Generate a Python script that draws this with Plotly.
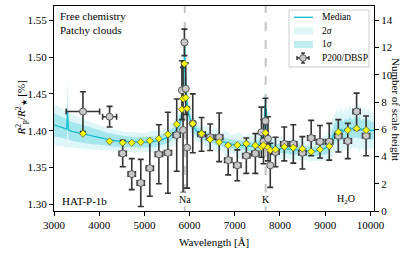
import plotly.graph_objects as go

# ---------------- data ----------------
wl_model = [3000, 3100, 3200, 3280, 3300, 3320, 3400, 3600, 3800, 4000,
            4060, 4080, 4200, 4400, 4600, 4800, 5000, 5200, 5400, 5550,
            5650, 5750, 5800, 5840, 5870, 5885, 5893, 5900, 5915, 5940,
            5980, 6050, 6150, 6300, 6400, 6500, 6600, 6700, 6800, 6900,
            7000, 7100, 7200, 7300, 7400, 7500, 7580, 7640, 7665, 7680,
            7699, 7720, 7760, 7850, 7950, 8050, 8150, 8250, 8350, 8450,
            8550, 8650, 8750, 8850, 8950, 9050, 9100, 9150, 9200, 9250,
            9300, 9350, 9400, 9450, 9500, 9550, 9600, 9650, 9700, 9750,
            9800, 9850, 9900, 9950, 10000, 10080]
median = [1.408, 1.406, 1.404, 1.402, 1.426, 1.401, 1.399, 1.396, 1.393, 1.391,
          1.390, 1.390, 1.388, 1.386, 1.385, 1.384, 1.384, 1.385, 1.388, 1.392,
          1.397, 1.405, 1.413, 1.428, 1.455, 1.510, 1.525, 1.490, 1.465, 1.440,
          1.422, 1.408, 1.400, 1.394, 1.391, 1.389, 1.387, 1.385, 1.383, 1.382,
          1.381, 1.380, 1.380, 1.379, 1.379, 1.380, 1.384, 1.395, 1.435, 1.410,
          1.430, 1.395, 1.382, 1.377, 1.376, 1.376, 1.375, 1.375, 1.374, 1.374,
          1.373, 1.372, 1.372, 1.373, 1.375, 1.378, 1.382, 1.390, 1.396, 1.400,
          1.398, 1.402, 1.399, 1.403, 1.401, 1.404, 1.402, 1.405, 1.403, 1.404,
          1.401, 1.403, 1.400, 1.402, 1.400, 1.400]
sig1_hw = [0.016, 0.015, 0.014, 0.014, 0.020, 0.013, 0.013, 0.012, 0.011, 0.010,
           0.010, 0.009, 0.009, 0.008, 0.007, 0.007, 0.007, 0.007, 0.007, 0.008,
           0.008, 0.009, 0.010, 0.011, 0.012, 0.014, 0.015, 0.014, 0.012, 0.011,
           0.010, 0.008, 0.007, 0.006, 0.007, 0.006, 0.007, 0.006, 0.007, 0.006,
           0.006, 0.007, 0.006, 0.007, 0.006, 0.007, 0.008, 0.010, 0.016, 0.012,
           0.015, 0.010, 0.007, 0.006, 0.006, 0.007, 0.006, 0.007, 0.006, 0.007,
           0.006, 0.007, 0.006, 0.007, 0.008, 0.009, 0.010, 0.012, 0.013, 0.014,
           0.013, 0.015, 0.012, 0.014, 0.013, 0.015, 0.012, 0.014, 0.013, 0.015,
           0.012, 0.014, 0.013, 0.014, 0.012, 0.012]
sig2_hw = [0.028, 0.026, 0.025, 0.025, 0.050, 0.024, 0.023, 0.021, 0.019, 0.017,
           0.017, 0.016, 0.015, 0.014, 0.013, 0.014, 0.013, 0.015, 0.013, 0.015,
           0.016, 0.017, 0.019, 0.021, 0.023, 0.026, 0.028, 0.026, 0.023, 0.021,
           0.018, 0.015, 0.014, 0.012, 0.016, 0.012, 0.017, 0.012, 0.018, 0.012,
           0.014, 0.018, 0.012, 0.016, 0.013, 0.017, 0.018, 0.022, 0.035, 0.025,
           0.030, 0.020, 0.014, 0.012, 0.013, 0.015, 0.012, 0.014, 0.013, 0.015,
           0.012, 0.014, 0.013, 0.015, 0.016, 0.018, 0.020, 0.026, 0.024, 0.030,
           0.025, 0.032, 0.024, 0.030, 0.025, 0.032, 0.024, 0.030, 0.026, 0.033,
           0.024, 0.030, 0.025, 0.028, 0.024, 0.024]

obs_wl = [3640, 4230, 4520, 4720, 4920, 5120, 5320, 5520, 5715, 5830,
          5855, 5885, 5915, 5945, 6070, 6265, 6455, 6655, 6855, 7055,
          7255, 7455, 7590, 7635, 7680, 7735, 7785, 7900, 8095, 8295,
          8495, 8690, 8885, 9090, 9290, 9500, 9695, 9905]
obs_depth = [1.426, 1.419, 1.369, 1.341, 1.329, 1.349, 1.368, 1.370, 1.394, 1.455,
             1.401, 1.520, 1.457, 1.377, 1.410, 1.395, 1.391, 1.391, 1.360, 1.353,
             1.366, 1.369, 1.398, 1.385, 1.413, 1.389, 1.353, 1.371, 1.382, 1.382,
             1.370, 1.390, 1.385, 1.385, 1.393, 1.386, 1.426, 1.393]
obs_err = [0.027, 0.014, 0.018, 0.021, 0.032, 0.038, 0.040, 0.055, 0.049, 0.040,
           0.085, 0.018, 0.035, 0.055, 0.040, 0.023, 0.018, 0.033, 0.020, 0.021,
           0.024, 0.027, 0.034, 0.030, 0.031, 0.030, 0.030, 0.020, 0.023, 0.026,
           0.022, 0.024, 0.022, 0.025, 0.022, 0.024, 0.025, 0.027]
obs_xerr = [370, 155, 80, 80, 80, 80, 80, 80, 80, 15,
            15, 15, 15, 15, 40, 80, 80, 80, 80, 80,
            80, 80, 20, 20, 20, 20, 20, 80, 80, 80,
            80, 80, 80, 80, 80, 80, 80, 80]
model_binned = [1.396, 1.3855, 1.3837, 1.3835, 1.3845, 1.3864, 1.389, 1.395, 1.4086, 1.429,
                1.4435, 1.491, 1.4448, 1.430, 1.4095, 1.396, 1.388, 1.3845, 1.380, 1.3804,
                1.3823, 1.380, 1.3777, 1.380, 1.3973, 1.377, 1.3736, 1.3746, 1.378, 1.377,
                1.3755, 1.3715, 1.3746, 1.379, 1.398, 1.4008, 1.403, 1.4008]

line_wl = {"Na": 5893, "K": 7683}
x_ticks = [3000, 4000, 5000, 6000, 7000, 8000, 9000, 10000]
x_ticktext = ["3000", "4000", "5000", "6000", "7000", "8000", "9000", "10000"]
y_ticks = [1.30, 1.35, 1.40, 1.45, 1.50, 1.55]
y2_ticks = [0, 2, 4, 6, 8, 10, 12, 14]
legend_labels = ["Median", "2<i>σ</i>", "1<i>σ</i>", "P200/DBSP"]

# ---------------- figure ----------------
SERIF = "Liberation Serif, Times New Roman, serif"
CYAN = "#17becf"
FILL2 = "rgba(23,190,207,0.14)"
FILL1 = "rgba(23,190,207,0.28)"

W, H = 415, 256
ML, MR, MT, MB = 54, 41, 6, 45
PW, PH = W - ML - MR, H - MT - MB


def px(x):  # pixel -> paper x
    return (x - ML) / PW


def py(y):  # pixel -> paper y
    return (H - MB - y) / PH


fig = go.Figure()

s2_up = [m + h for m, h in zip(median, sig2_hw)]
s2_lo = [m - h for m, h in zip(median, sig2_hw)]
s1_up = [m + h for m, h in zip(median, sig1_hw)]
s1_lo = [m - h for m, h in zip(median, sig1_hw)]

fig.add_trace(go.Scatter(x=wl_model + wl_model[::-1], y=s2_up + s2_lo[::-1],
                         fill="toself", fillcolor=FILL2, line=dict(width=0),
                         mode="lines", hoverinfo="skip"))
fig.add_trace(go.Scatter(x=wl_model + wl_model[::-1], y=s1_up + s1_lo[::-1],
                         fill="toself", fillcolor=FILL1, line=dict(width=0),
                         mode="lines", hoverinfo="skip"))
fig.add_trace(go.Scatter(x=wl_model, y=median, mode="lines",
                         line=dict(color=CYAN, width=1.3)))
fig.add_trace(go.Scatter(x=obs_wl, y=obs_depth, mode="markers",
                         marker=dict(symbol="circle", size=7, color="#c8c8c8",
                                     line=dict(color="#555555", width=1)),
                         error_y=dict(type="data", array=obs_err, color="#333333",
                                      thickness=1.6, width=3),
                         error_x=dict(type="data", array=obs_xerr, color="#333333",
                                      thickness=1.6, width=3)))
fig.add_trace(go.Scatter(x=obs_wl, y=model_binned, mode="markers",
                         marker=dict(symbol="diamond", size=5.5, color="#ffff00",
                                     line=dict(color="#333333", width=0.6))))
# invisible trace to activate right axis
fig.add_trace(go.Scatter(x=[3000], y=[0], yaxis="y2", mode="markers",
                         marker=dict(opacity=0), hoverinfo="skip"))

for name, w in line_wl.items():
    fig.add_shape(type="line", x0=w, x1=w, y0=0, y1=1, xref="x", yref="paper",
                  line=dict(color="#c4c4c4", width=2, dash="dash"), layer="below")

# ---- manual legend (matplotlib-like, compact) ----
fig.add_shape(type="rect", xref="paper", yref="paper",
              x0=px(289), x1=px(369), y0=py(67), y1=py(10),
              line=dict(color="#cccccc", width=1), fillcolor="rgba(255,255,255,0.85)")
row_y = [17.3, 31, 44.5, 58]
fig.add_shape(type="line", xref="paper", yref="paper", x0=px(294), x1=px(313),
              y0=py(row_y[0]), y1=py(row_y[0]), line=dict(color=CYAN, width=1.4))
fig.add_shape(type="rect", xref="paper", yref="paper", x0=px(294), x1=px(313),
              y0=py(row_y[1] + 3.5), y1=py(row_y[1] - 3.5), line=dict(width=0), fillcolor=FILL2)
fig.add_shape(type="rect", xref="paper", yref="paper", x0=px(294), x1=px(313),
              y0=py(row_y[2] + 3.5), y1=py(row_y[2] - 3.5), line=dict(width=0), fillcolor=FILL1)
fig.add_shape(type="line", xref="paper", yref="paper", x0=px(297), x1=px(309),
              y0=py(row_y[3]), y1=py(row_y[3]), line=dict(color="#333333", width=1.6))
fig.add_shape(type="line", xref="paper", yref="paper", x0=px(303), x1=px(303),
              y0=py(row_y[3] + 5), y1=py(row_y[3] - 5), line=dict(color="#333333", width=1.6))
for xx in (297, 309):
    fig.add_shape(type="line", xref="paper", yref="paper", x0=px(xx), x1=px(xx),
                  y0=py(row_y[3] + 2), y1=py(row_y[3] - 2), line=dict(color="#333333", width=1.4))
for yy in (row_y[3] - 5, row_y[3] + 5):
    fig.add_shape(type="line", xref="paper", yref="paper", x0=px(301), x1=px(305),
                  y0=py(yy), y1=py(yy), line=dict(color="#333333", width=1.4))
fig.add_shape(type="circle", xref="paper", yref="paper", x0=px(299.7), x1=px(306.3),
              y0=py(row_y[3] + 3.3), y1=py(row_y[3] - 3.3),
              line=dict(color="#555555", width=1), fillcolor="#c8c8c8")
for lab, yy in zip(legend_labels, row_y):
    fig.add_annotation(x=px(320), y=py(yy), xref="paper", yref="paper", xanchor="left",
                       yanchor="middle", text=lab, showarrow=False,
                       font=dict(family=SERIF, size=9.5, color="black"))

ann_font = dict(family=SERIF, size=11, color="black")
fig.add_annotation(x=0.012, y=0.99, xref="paper", yref="paper", xanchor="left", yanchor="top",
                   text="Free chemistry<br>Patchy clouds", showarrow=False, align="left",
                   font=ann_font)
fig.add_annotation(x=0.02, y=py(200.5), xref="paper", yref="paper", xanchor="left", yanchor="middle",
                   text="HAT-P-1b", showarrow=False, font=ann_font)
for name, w in line_wl.items():
    fig.add_annotation(x=w, y=py(199), xref="x", yref="paper", yanchor="middle",
                       text=name, showarrow=False,
                       font=dict(family=SERIF, size=10, color="black"), bgcolor="white")
fig.add_annotation(x=9450, y=py(199), xref="x", yref="paper", yanchor="middle",
                   text="H<sub>2</sub>O", showarrow=False, font=dict(family=SERIF, size=10, color="black"))
fig.add_annotation(x=px(11), y=0.5, xref="paper", yref="paper",
                   text="<i>R</i><sup>2</sup><sub>p</sub>/<i>R</i><sup>2</sup><sub>★</sub> [%]",
                   textangle=-90, showarrow=False, font=ann_font)
fig.add_annotation(x=px(404), y=py(109), xref="paper", yref="paper",
                   text="Number of scale height", textangle=90, showarrow=False, font=ann_font)
fig.add_annotation(x=px(214), y=py(242), xref="paper", yref="paper", yanchor="middle",
                   text="Wavelength [Å]", showarrow=False, font=ann_font)

axis_common = dict(showline=True, linecolor="black", linewidth=1, ticks="outside",
                   ticklen=4, tickcolor="black", showgrid=False, zeroline=False,
                   automargin=False,
                   tickfont=dict(family=SERIF, size=11, color="black"))
fig.update_layout(
    width=W, height=H,
    margin=dict(l=ML, r=MR, t=MT, b=MB, autoexpand=False),
    paper_bgcolor="white", plot_bgcolor="white",
    showlegend=False,
    xaxis=dict(range=[3000, 10080], tickvals=x_ticks, ticktext=x_ticktext, mirror=True,
               **axis_common),
    yaxis=dict(range=[1.2909, 1.5694], tickvals=y_ticks, tickformat=".2f", **axis_common),
    yaxis2=dict(range=[0, 15.05], tickvals=y2_ticks, overlaying="y", side="right",
                **axis_common),
)

fig.write_html("out.html", config={"displayModeBar": False, "staticPlot": True},
               post_script="document.body.style.margin='0';document.body.style.padding='0';")
